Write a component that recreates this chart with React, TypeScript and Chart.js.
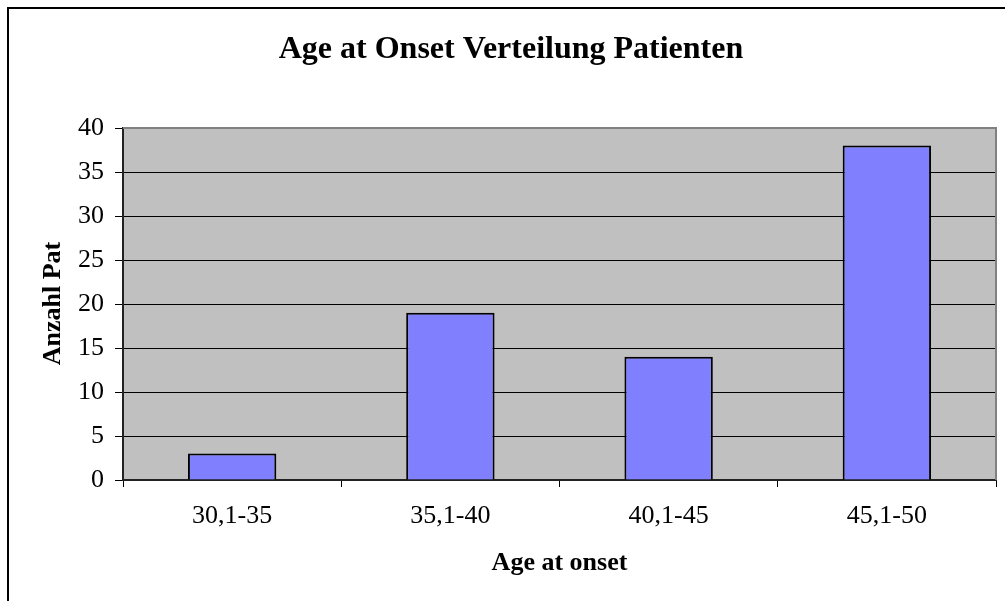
import React, { useEffect, useRef } from "react";
import { Chart, registerables } from "chart.js";

Chart.register(...registerables);

const categories = ["30,1-35", "35,1-40", "40,1-45", "45,1-50"];
const patientCounts = [3, 19, 14, 38];
const yTicks = [0, 5, 10, 15, 20, 25, 30, 35, 40];

const chartTitle = "Age at Onset Verteilung Patienten";
const xTitle = "Age at onset";
const yTitle = "Anzahl Pat";

const FONT = "'Liberation Serif', 'Times New Roman', serif";

const decorPlugin = {
  id: "decor",
  beforeDraw(chart: any) {
    const { ctx, chartArea } = chart;
    ctx.save();
    ctx.fillStyle = "#ffffff";
    ctx.fillRect(0, 0, chart.width, chart.height);
    ctx.fillStyle = "#C0C0C0";
    ctx.fillRect(chartArea.left, chartArea.top, chartArea.right - chartArea.left, chartArea.bottom - chartArea.top);
    ctx.restore();
  },
  afterDraw(chart: any) {
    const { ctx, chartArea } = chart;
    ctx.save();
    ctx.strokeStyle = "#808080";
    ctx.lineWidth = 2;
    ctx.beginPath();
    ctx.moveTo(chartArea.left, chartArea.top);
    ctx.lineTo(chartArea.right, chartArea.top);
    ctx.lineTo(chartArea.right, chartArea.bottom);
    ctx.stroke();
    ctx.strokeStyle = "#000000";
    ctx.lineWidth = 2;
    ctx.beginPath();
    ctx.moveTo(8, chart.height + 5);
    ctx.lineTo(8, 8);
    ctx.lineTo(chart.width + 5, 8);
    ctx.stroke();
    ctx.fillStyle = "#000000";
    ctx.textBaseline = "alphabetic";
    ctx.textAlign = "center";
    ctx.font = `bold 32px ${FONT}`;
    ctx.fillText(chartTitle, 511, 58);
    ctx.font = `bold 26px ${FONT}`;
    ctx.fillText(xTitle, (chartArea.left + chartArea.right) / 2, 570);
    ctx.save();
    ctx.translate(60, 303.5);
    ctx.rotate(-Math.PI / 2);
    ctx.fillText(yTitle, 0, 0);
    ctx.restore();
    ctx.restore();
  },
};

export default function App() {
  const ref = useRef<HTMLCanvasElement | null>(null);
  useEffect(() => {
    if (!ref.current) return;
    const chart = new Chart(ref.current, {
      type: "bar",
      data: {
        labels: categories,
        datasets: [
          {
            data: patientCounts,
            backgroundColor: "#8080FF",
            borderColor: "#000000",
            borderWidth: 2,
            barPercentage: 0.405,
            categoryPercentage: 1,
          },
        ],
      },
      options: {
        animation: false,
        responsive: false,
        maintainAspectRatio: false,
        events: [],
        layout: { padding: { top: 128, right: 9, left: 0, bottom: 0 } },
        plugins: {
          legend: { display: false },
          title: { display: false },
          tooltip: { enabled: false },
        },
        scales: {
          x: {
            afterFit: (scale: any) => {
              scale.height = 121;
            },
            grid: {
              offset: true,
              drawOnChartArea: false,
              drawTicks: true,
              tickLength: 7,
              color: "#000000",
              lineWidth: 1,
            },
            border: { display: true, color: "#222222", width: 2 },
            ticks: {
              color: "#000000",
              font: { family: FONT, size: 26 },
              padding: 14,
              maxRotation: 0,
            },
          },
          y: {
            min: 0,
            max: 40,
            afterFit: (scale: any) => {
              scale.width = 123;
            },
            afterBuildTicks: (scale: any) => {
              scale.ticks = yTicks.map((v) => ({ value: v }));
            },
            grid: {
              drawTicks: true,
              tickLength: 8,
              color: "#000000",
              lineWidth: 1,
            },
            border: { display: true, color: "#222222", width: 2 },
            ticks: {
              color: "#000000",
              font: { family: FONT, size: 26 },
              padding: 11,
            },
          },
        },
      },
      plugins: [decorPlugin],
    });
    return () => chart.destroy();
  }, []);
  return (
    <div style={{ position: "absolute", left: 0, top: 0, width: 1005, height: 601 }}>
      <canvas ref={ref} width={1005} height={601} style={{ width: 1005, height: 601, display: "block" }} />
    </div>
  );
}
